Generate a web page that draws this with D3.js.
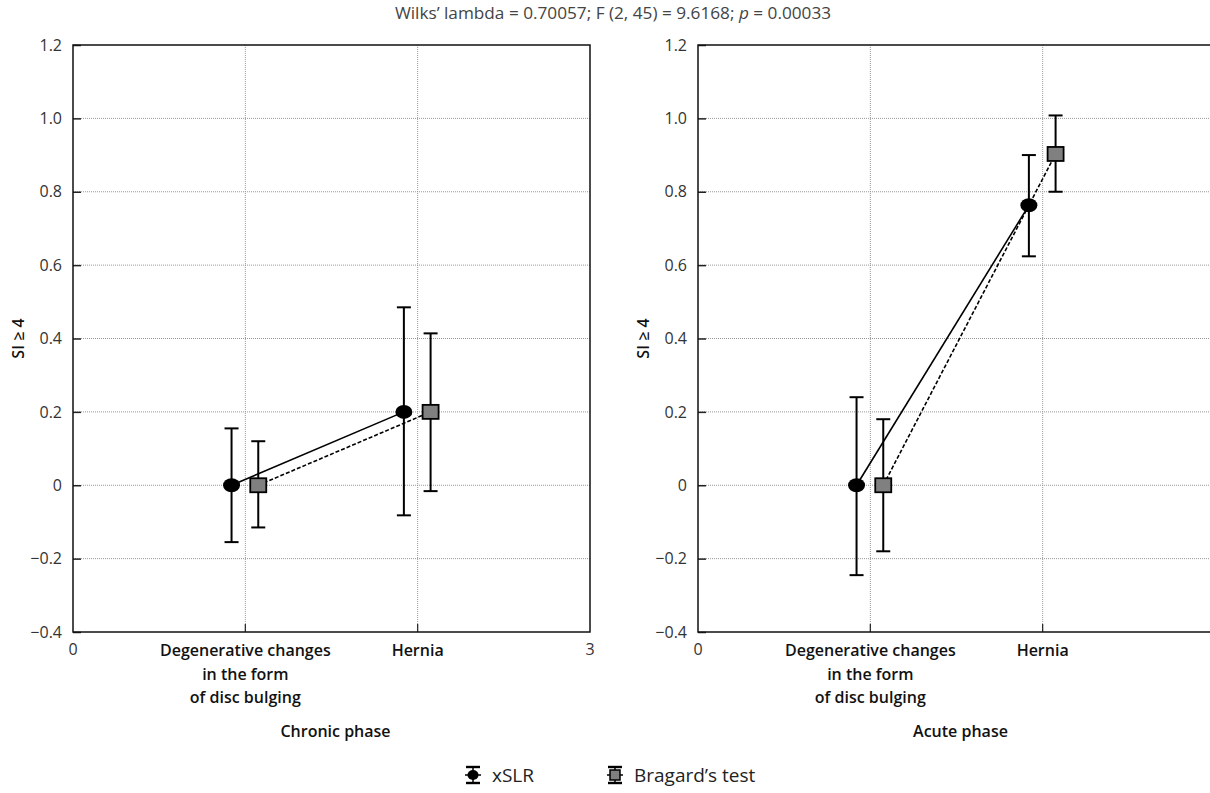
<!DOCTYPE html>
<html>
<head>
<meta charset="utf-8">
<script src="https://cdn.jsdelivr.net/npm/d3@7"></script>
<style>
  body { margin: 0; background: #fff; }
  text { font-family: "Open Sans", sans-serif; }
</style>
</head>
<body>
<div id="chart"></div>
<script>
// categories and panels
const categories = [["Degenerative changes", "in the form", "of disc bulging"], ["Hernia"]]
const panelNames = ["Chronic phase", "Acute phase"]
const yTicks = [-0.4, -0.2, 0, 0.2, 0.4, 0.6, 0.8, 1.0, 1.2]
const xEndTicks = [0, 3]

// chronic phase
const chronicXslrMean = [0, 0.2]
const chronicXslrLow = [-0.155, -0.082]
const chronicXslrHigh = [0.155, 0.485]
const chronicBragMean = [0, 0.2]
const chronicBragLow = [-0.115, -0.016]
const chronicBragHigh = [0.12, 0.414]

// acute phase
const acuteXslrMean = [0, 0.763]
const acuteXslrLow = [-0.245, 0.624]
const acuteXslrHigh = [0.24, 0.9]
const acuteBragMean = [0, 0.903]
const acuteBragLow = [-0.18, 0.8]
const acuteBragHigh = [0.18, 1.008]

const W = 1210, H = 793
const svg = d3.select("#chart").append("svg")
    .attr("width", W)
    .attr("height", H)

// title
const title = svg.append("text")
    .attr("x", 613)
    .attr("y", 19)
    .attr("text-anchor", "middle")
    .style("font-size", "17.2px")
    .style("fill", "#444")
title.append("tspan").text("Wilks\u2019 lambda = 0.70057; F (2, 45) = 9.6168; ")
title.append("tspan").style("font-style", "italic").text("p")
title.append("tspan").text(" = 0.00033")

const plotW = 517, plotH = 587, plotTop = 45

function panel(left, name, xslr, brag) {
    const g = svg.append("g").attr("transform", `translate(${left},${plotTop})`)
    const x = d3.scaleLinear().domain([0, 3]).range([0, plotW])
    const y = d3.scaleLinear().domain([-0.4, 1.2]).range([plotH, 0])

    // grid
    g.selectAll(".ygrid")
        .data(yTicks.slice(1, -1))
        .join("line")
        .attr("x1", 0).attr("x2", plotW)
        .attr("y1", d => y(d)).attr("y2", d => y(d))
        .attr("stroke", "#999")
        .attr("stroke-width", 1)
        .attr("stroke-dasharray", "1,1")
    g.selectAll(".xgrid")
        .data([1, 2])
        .join("line")
        .attr("x1", d => x(d)).attr("x2", d => x(d))
        .attr("y1", 0).attr("y2", plotH)
        .attr("stroke", "#999")
        .attr("stroke-width", 1)
        .attr("stroke-dasharray", "1,1")

    // y axis with inward ticks
    const yAxis = g.append("g")
        .call(d3.axisLeft(y)
            .tickValues(yTicks)
            .tickSizeInner(-8)
            .tickSizeOuter(0)
            .tickPadding(11)
            .tickFormat(d => d === 0 ? "0" : d3.format(".1f")(d)))
    yAxis.select(".domain").remove()
    yAxis.selectAll(".tick line").attr("stroke", "#222").attr("stroke-width", 1.5)
    yAxis.selectAll(".tick text").style("font-size", "16px").style("fill", "#333")
        .attr("font-family", null)

    // x tick marks at categories (bottom, inward)
    g.selectAll(".xtick")
        .data([1, 2])
        .join("line")
        .attr("x1", d => x(d)).attr("x2", d => x(d))
        .attr("y1", plotH).attr("y2", plotH - 8)
        .attr("stroke", "#222")
        .attr("stroke-width", 1.2)

    // frame
    g.append("rect")
        .attr("width", plotW).attr("height", plotH)
        .attr("fill", "none")
        .attr("stroke", "#111")
        .attr("stroke-width", 1.5)

    // end labels 0 and 3
    g.selectAll(".xend")
        .data(xEndTicks)
        .join("text")
        .attr("x", d => x(d))
        .attr("y", plotH + 23)
        .attr("text-anchor", "middle")
        .style("font-size", "16px")
        .style("fill", "#333")
        .text(d => d)

    // category labels
    categories.forEach((lines, i) => {
        const t = g.append("text")
            .attr("text-anchor", "middle")
            .style("font-size", "16px")
            .style("font-weight", 600)
            .style("fill", "#111")
        lines.forEach((line, j) => {
            t.append("tspan")
                .attr("x", x(i + 1))
                .attr("y", plotH + 24 + j * 23.5)
                .text(line)
        })
    })

    // panel name
    g.append("text")
        .attr("x", plotW / 2 + 4)
        .attr("y", plotH + 105)
        .attr("text-anchor", "middle")
        .style("font-size", "16px")
        .style("font-weight", 600)
        .style("fill", "#111")
        .text(name)

    // y axis title
    g.append("text")
        .attr("transform", `translate(${-49},${plotH / 2}) rotate(-90)`)
        .attr("text-anchor", "middle")
        .style("font-size", "16px")
        .style("font-weight", 600)
        .style("fill", "#111")
        .text("SI \u2265 4")

    const series = [
        { d: xslr, off: -0.08, dash: null, shape: "circle" },
        { d: brag, off: 0.075, dash: "4,2", shape: "square" }
    ]

    // connecting lines
    series.forEach(s => {
        const pts = s.d.mean.map((m, i) => [x(i + 1 + s.off), y(m)])
        g.append("path")
            .attr("d", d3.line()(pts))
            .attr("fill", "none")
            .attr("stroke", "#000")
            .attr("stroke-width", 1.6)
            .attr("stroke-dasharray", s.dash)
    })

    // error bars and markers
    series.forEach(s => {
        s.d.mean.forEach((m, i) => {
            const cx = x(i + 1 + s.off)
            const lo = y(s.d.low[i]), hi = y(s.d.high[i])
            g.append("line")
                .attr("x1", cx).attr("x2", cx)
                .attr("y1", lo).attr("y2", hi)
                .attr("stroke", "#000").attr("stroke-width", 2)
            ;[lo, hi].forEach(v => {
                g.append("line")
                    .attr("x1", cx - 7).attr("x2", cx + 7)
                    .attr("y1", v).attr("y2", v)
                    .attr("stroke", "#000").attr("stroke-width", 2)
            })
            if (s.shape === "circle") {
                g.append("ellipse")
                    .attr("cx", cx).attr("cy", y(m))
                    .attr("rx", 8.5).attr("ry", 7)
                    .attr("fill", "#000")
            } else {
                g.append("rect")
                    .attr("x", cx - 8).attr("y", y(m) - 7)
                    .attr("width", 16).attr("height", 14)
                    .attr("fill", "#808080")
                    .attr("stroke", "#000")
                    .attr("stroke-width", 1.8)
            }
        })
    })
}

panel(73, panelNames[0],
    { mean: chronicXslrMean, low: chronicXslrLow, high: chronicXslrHigh },
    { mean: chronicBragMean, low: chronicBragLow, high: chronicBragHigh })
panel(698, panelNames[1],
    { mean: acuteXslrMean, low: acuteXslrLow, high: acuteXslrHigh },
    { mean: acuteBragMean, low: acuteBragLow, high: acuteBragHigh })

// legend
const legendItems = [
    { label: "xSLR", shape: "circle", x: 473 },
    { label: "Bragard\u2019s test", shape: "square", x: 615 }
]
const lg = svg.append("g").attr("transform", "translate(0,775)")
legendItems.forEach(it => {
    // line through the marker
    lg.append("line")
        .attr("x1", it.x - 8).attr("x2", it.x + 8).attr("y1", 0).attr("y2", 0)
        .attr("stroke", "#000").attr("stroke-width", 1.5)
    lg.append("line")
        .attr("x1", it.x).attr("x2", it.x).attr("y1", -8).attr("y2", 8)
        .attr("stroke", "#000").attr("stroke-width", 1.5)
    ;[-8, 8].forEach(v => {
        lg.append("line")
            .attr("x1", it.x - 7).attr("x2", it.x + 7).attr("y1", v).attr("y2", v)
            .attr("stroke", "#000").attr("stroke-width", 2.4)
    })
    if (it.shape === "circle") {
        lg.append("ellipse").attr("cx", it.x).attr("cy", 0).attr("rx", 5.5).attr("ry", 5).attr("fill", "#000")
    } else {
        lg.append("rect").attr("x", it.x - 5).attr("y", -5).attr("width", 10).attr("height", 10)
            .attr("fill", "#808080").attr("stroke", "#000").attr("stroke-width", 1.5)
    }
    lg.append("text")
        .attr("x", it.x + 19)
        .attr("y", 7)
        .style("font-size", "19px")
        .style("fill", "#222")
        .text(it.label)
})
</script>
</body>
</html>
